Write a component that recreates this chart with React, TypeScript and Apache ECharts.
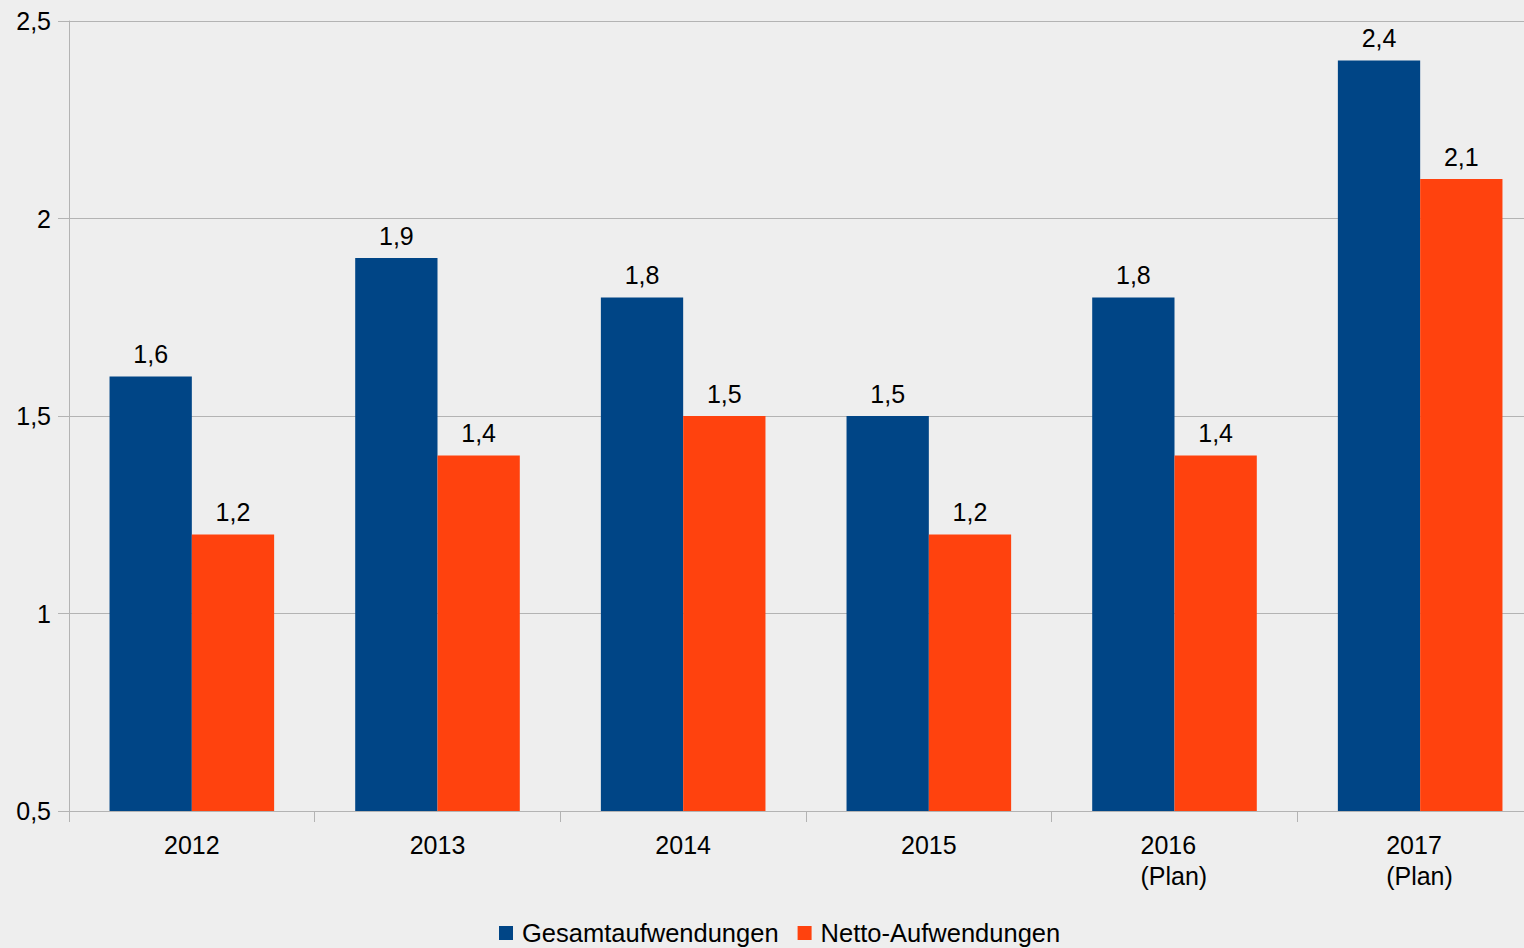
import React, { useEffect, useRef } from "react";
import * as echarts from "echarts";

const categories = ["2012", "2013", "2014", "2015", "2016\n(Plan)", "2017\n(Plan)"];
const gesamt = [1.6, 1.9, 1.8, 1.5, 1.8, 2.4];
const netto = [1.2, 1.4, 1.5, 1.2, 1.4, 2.1];
const seriesNames = ["Gesamtaufwendungen", "Netto-Aufwendungen"];

const fmt = (v: number) => String(v).replace(".", ",");

export default function App() {
  const ref = useRef<HTMLDivElement>(null);
  useEffect(() => {
    const chart = echarts.init(ref.current!, null, { renderer: "svg" });
    const font = "Liberation Sans";
    const fs = 25;
    chart.setOption({
      animation: false,
      backgroundColor: "#eeeeee",
      textStyle: { fontFamily: font },
      grid: { left: 69, right: 0, top: 21, bottom: 137, containLabel: false },
      legend: {
        bottom: -3,
        left: 494,
        itemWidth: 14,
        itemHeight: 14,
        itemGap: 19,
        icon: "rect",
        textStyle: { fontSize: 25.5, color: "#000", fontFamily: font, padding: [0, 0, 0, 4] },
        data: seriesNames,
      },
      xAxis: {
        type: "category",
        data: categories,
        axisLine: { lineStyle: { color: "#b3b3b3", width: 1 } },
        axisTick: { show: true, length: 11, lineStyle: { color: "#b3b3b3" } },
        axisLabel: {
          fontSize: fs,
          color: "#000",
          margin: 18,
          lineHeight: 31,
          fontFamily: font,
          formatter: (v: string) =>
            v.includes("\n") ? v.split("\n").map((s) => `{l|${s}}`).join("\n") : v,
          rich: {
            l: { width: 68, align: "left", fontSize: fs, lineHeight: 31, fontFamily: font, color: "#000" },
          },
        },
      },
      yAxis: {
        type: "value",
        min: 0.5,
        max: 2.5,
        interval: 0.5,
        axisLine: { show: true, lineStyle: { color: "#b3b3b3" } },
        axisTick: { show: true, length: 11, lineStyle: { color: "#b3b3b3" } },
        splitLine: { lineStyle: { color: "#b3b3b3" } },
        axisLabel: { fontSize: fs, color: "#000", margin: 18, formatter: (v: number) => fmt(v), fontFamily: font },
      },
      series: [
        {
          name: seriesNames[0],
          type: "bar",
          data: gesamt,
          itemStyle: { color: "#004586" },
          barGap: "0%",
          barCategoryGap: "33%",
          label: { show: true, position: "top", distance: 10, fontSize: fs, color: "#000", fontFamily: font, formatter: (p: any) => fmt(p.value) },
        },
        {
          name: seriesNames[1],
          type: "bar",
          data: netto,
          itemStyle: { color: "#ff420e" },
          barGap: "0%",
          barCategoryGap: "33%",
          label: { show: true, position: "top", distance: 10, fontSize: fs, color: "#000", fontFamily: font, formatter: (p: any) => fmt(p.value) },
        },
      ],
    });
    return () => chart.dispose();
  }, []);
  return (
    <div style={{ position: "absolute", left: 0, top: 0, width: 1524, height: 948, overflow: "hidden" }}>
      <div ref={ref} style={{ width: 1543, height: 948 }} />
    </div>
  );
}
